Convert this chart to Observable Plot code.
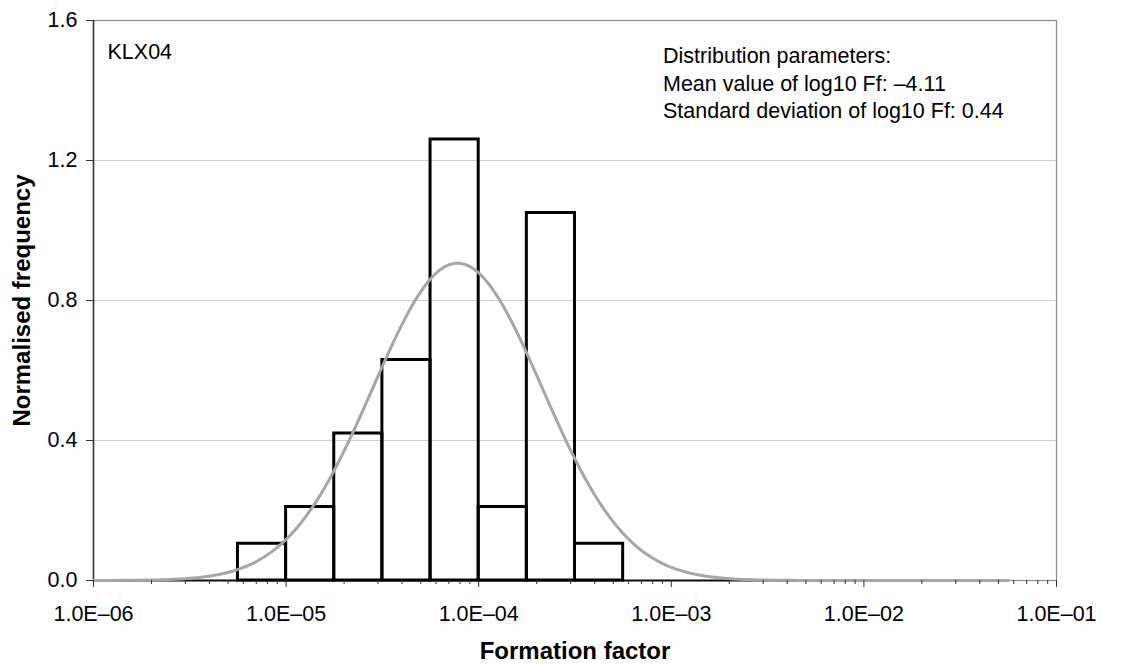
<!DOCTYPE html>
<html>
<head>
<meta charset="utf-8">
<script src="https://cdn.jsdelivr.net/npm/d3@7"></script>
<script src="https://cdn.jsdelivr.net/npm/@observablehq/plot@0.6"></script>
<style>
  body { margin: 0; background: #fff; }
  svg { display: block; }
</style>
</head>
<body>
<div id="chart"></div>
<script>
// Histogram of log10 formation factor, bins of 0.25 in log10 (lower edges)
const binStartLog10 = [-6, -5.75, -5.5, -5.25, -5, -4.75, -4.5, -4.25, -4, -3.75, -3.5, -3.25,
                       -3, -2.75, -2.5, -2.25, -2, -1.75, -1.5];
const normalisedFrequency = [0, 0, 0, 0.105, 0.21, 0.42, 0.63, 1.26, 0.21, 1.05, 0.105, 0,
                             0, 0, 0, 0, 0, 0, 0];
const binWidthLog10 = 0.25;

// Fitted log-normal distribution parameters
const meanLog10 = -4.11;
const sdLog10 = 0.44;

// Axis ticks
const decadeTicks = [1e-6, 1e-5, 1e-4, 1e-3, 1e-2, 1e-1];
const yTicks = [0, 0.4, 0.8, 1.2, 1.6];
const yGrid = [0.4, 0.8, 1.2];

const siteLabel = "KLX04";
const paramLines = [
  "Distribution parameters:",
  "Mean value of log10 Ff: \u20134.11",
  "Standard deviation of log10 Ff: 0.44"
];

// Bins as records
const bins = binStartLog10.map((lo, i) => ({
  x1: Math.pow(10, lo),
  x2: Math.pow(10, lo + binWidthLog10),
  f: normalisedFrequency[i]
}));
const filledBins = bins.filter(d => d.f > 0);
const binExtent = [bins[0].x1, bins[bins.length - 1].x2];

// Normal density of log10 Ff, evaluated across the histogram range
const curve = d3.range(binStartLog10[0], binStartLog10[binStartLog10.length - 1] + binWidthLog10 + 1e-9, 0.025)
  .map(l => ({
    x: Math.pow(10, l),
    y: Math.exp(-0.5 * ((l - meanLog10) / sdLog10) ** 2) / (sdLog10 * Math.sqrt(2 * Math.PI))
  }));

// Minor log ticks 2..9 within each decade
const minorTicks = [];
for (let e = -6; e < -1; e++) for (let m = 2; m <= 9; m++) minorTicks.push(m * Math.pow(10, e));

const fmtSci = d => "1.0E\u2013" + String(-Math.round(Math.log10(d))).padStart(2, "0");

const chart = Plot.plot({
  width: 1131,
  height: 664,
  marginLeft: 93,
  marginRight: 75,
  marginTop: 20,
  marginBottom: 84,
  style: { fontFamily: "'Liberation Sans', Arial, sans-serif", fontSize: "21.5px", color: "#000", background: "#fff" },
  x: { type: "log", domain: [1e-6, 1e-1] },
  y: { domain: [0, 1.6] },
  marks: [
    Plot.gridY(yGrid, { stroke: "#cfcfcf", strokeOpacity: 1, strokeWidth: 1 }),
    Plot.frame({ stroke: "#8c8c8c", strokeWidth: 1.2 }),
    Plot.ruleX([decadeTicks[0]], { stroke: "#333", strokeWidth: 1.5 }),
    Plot.ruleY([0], { x1: binExtent[0], x2: binExtent[1], stroke: "#111", strokeWidth: 2 }),
    Plot.rect(filledBins, { x1: "x1", x2: "x2", y1: 0, y2: "f", fill: "none", stroke: "#000", strokeWidth: 3 }),
    Plot.line(curve, { x: "x", y: "y", stroke: "#a6a6a6", strokeWidth: 3, curve: "linear" }),
    Plot.axisX(minorTicks, { tickSize: 4, text: null, stroke: "#333", label: null }),
    Plot.axisX(decadeTicks, { tickSize: 7, tickPadding: 18, tickFormat: fmtSci, stroke: "#333", label: null, fontSize: 21.5 }),
    Plot.axisY(yTicks, { tickSize: 7, tickPadding: 9, tickFormat: d => d.toFixed(1), stroke: "#333", label: null, fontSize: 21.5 }),
    Plot.text([siteLabel], { text: d => d, frameAnchor: "top-left", dx: 14, dy: 23, lineAnchor: "top", fontSize: 21.5 }),
    Plot.text([paramLines.join("\n")], { text: d => d, frameAnchor: "top", textAnchor: "start", dx: 88, dy: 23, lineAnchor: "top", lineHeight: 1.28, fontSize: 21.5 }),
    Plot.text(["Formation factor"], { text: d => d, frameAnchor: "bottom", dy: 71, lineAnchor: "middle", fontWeight: "bold", fontSize: 24 }),
    Plot.text(["Normalised frequency"], { text: d => d, frameAnchor: "left", dx: -71, rotate: -90, textAnchor: "middle", lineAnchor: "middle", fontWeight: "bold", fontSize: 24 })
  ]
});

document.getElementById("chart").appendChild(chart);
</script>
</body>
</html>
